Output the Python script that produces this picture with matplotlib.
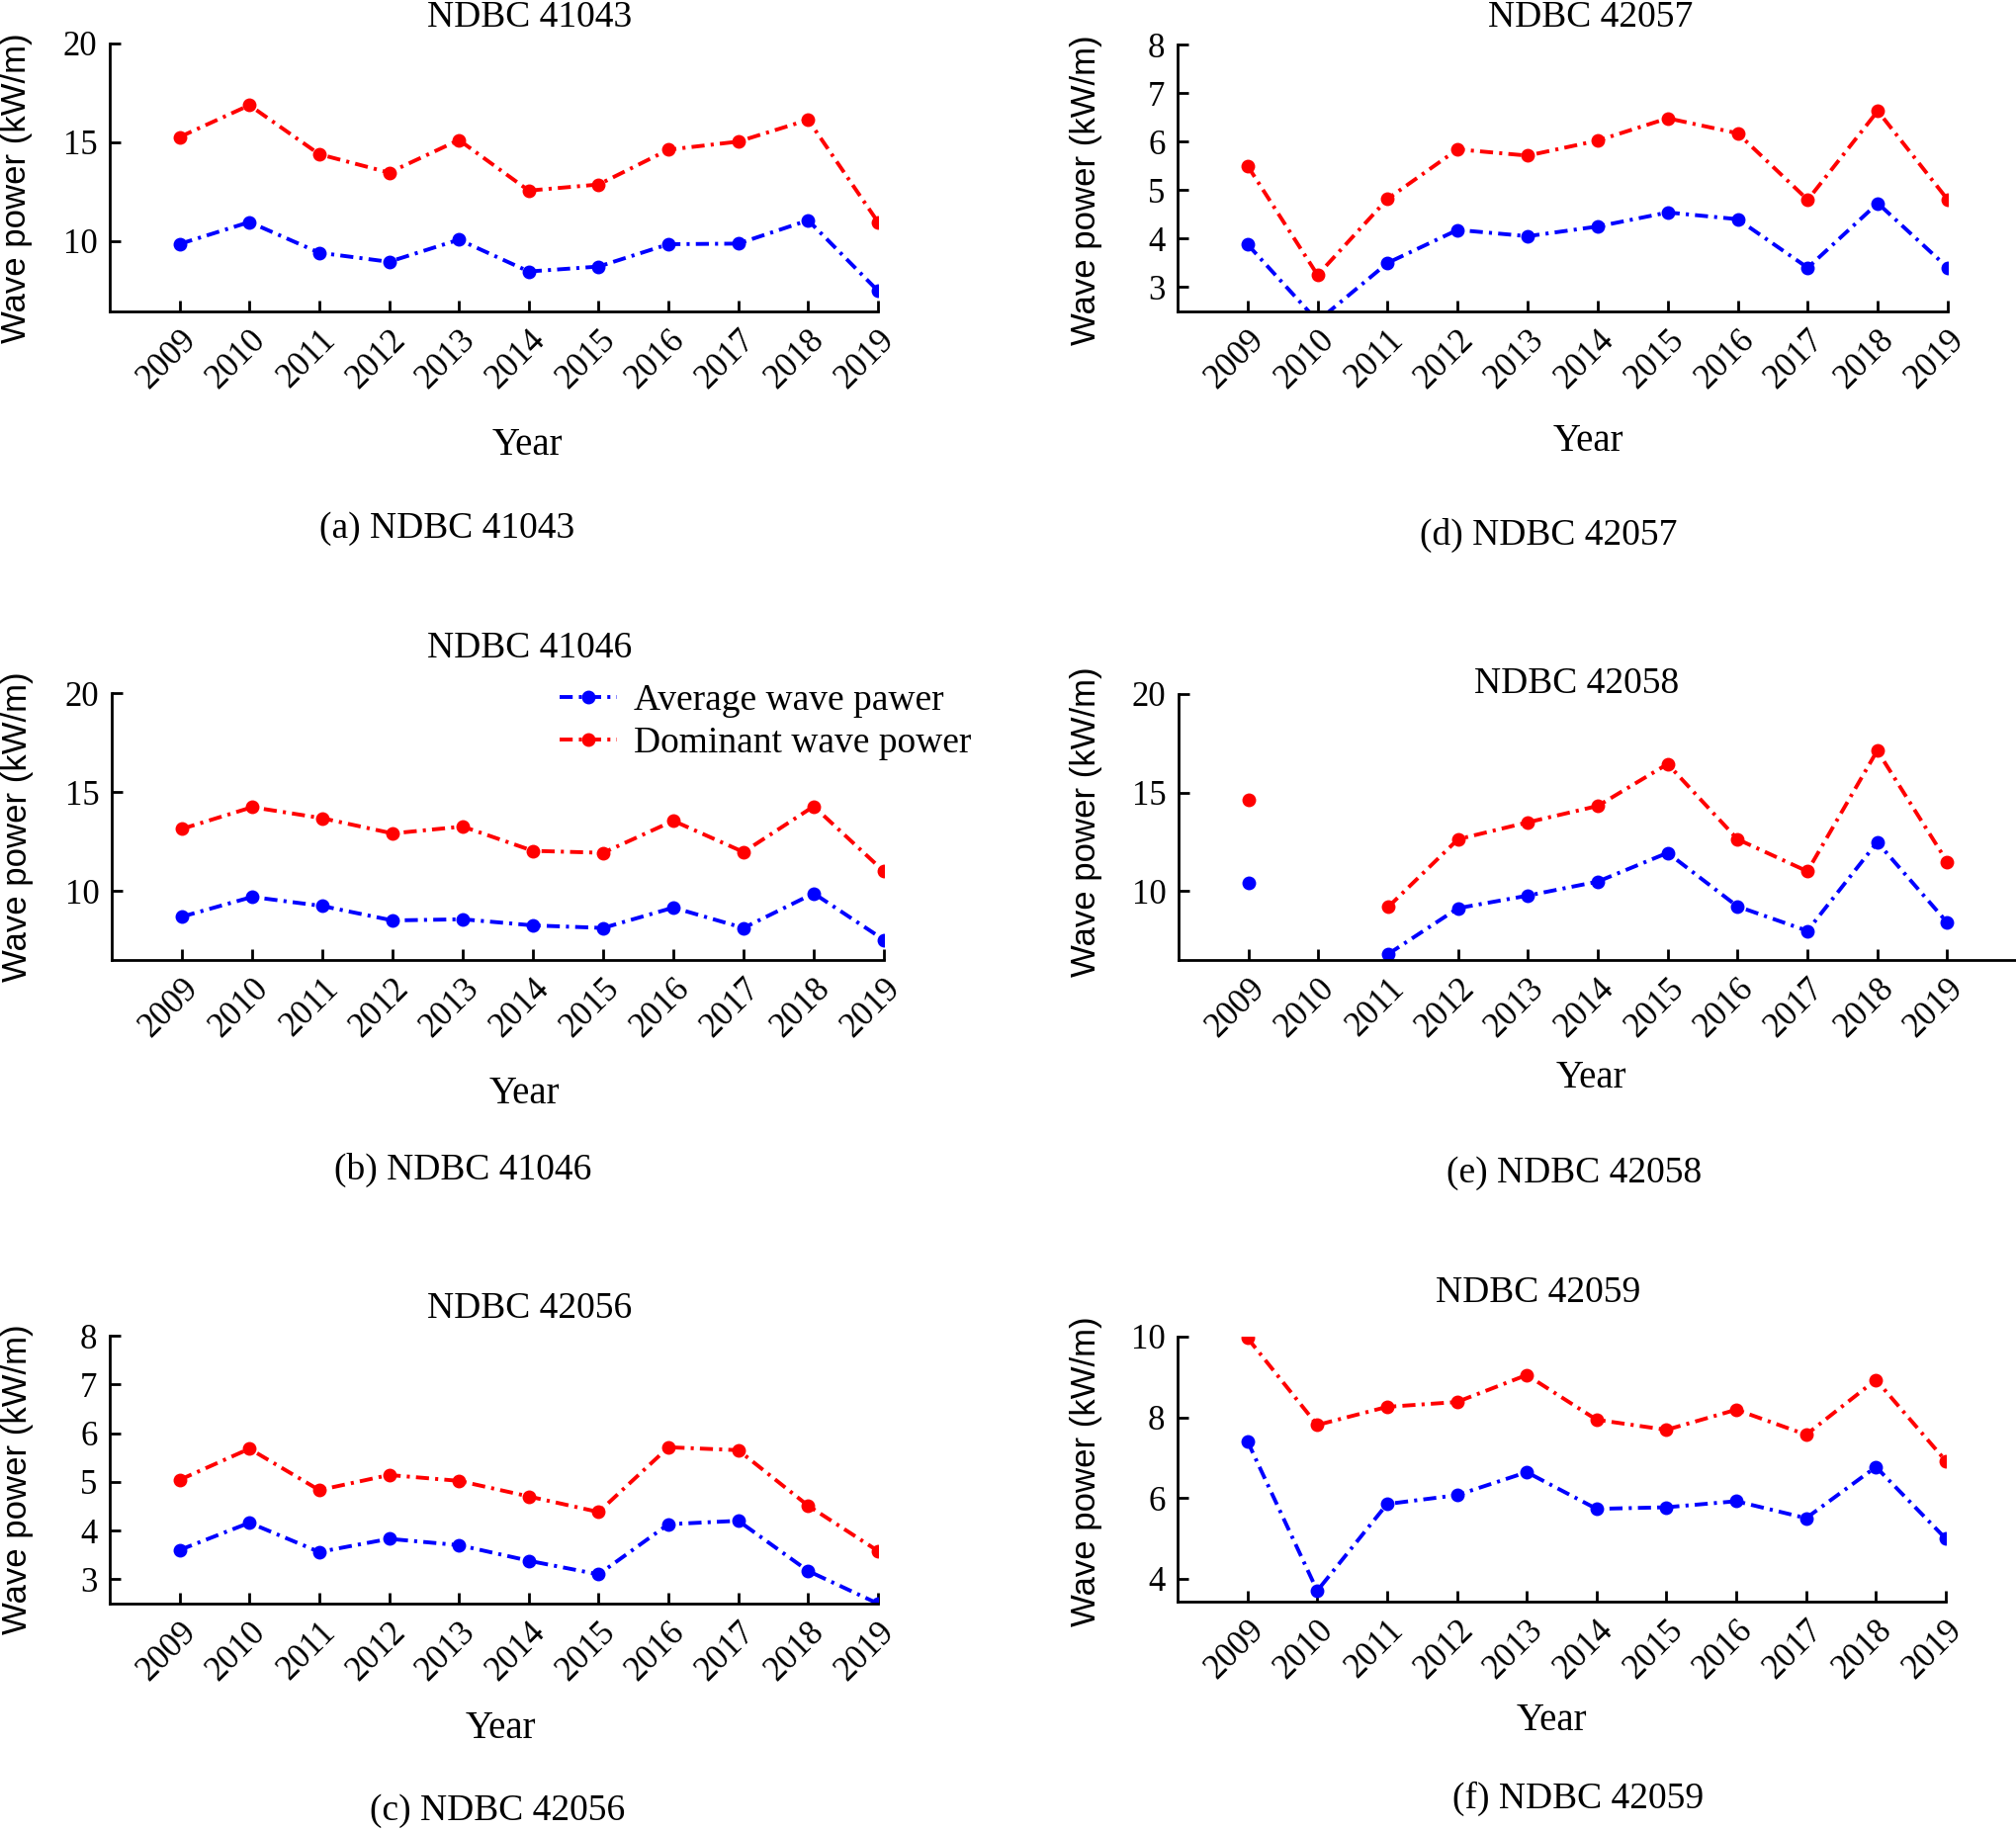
import numpy as np
import matplotlib
matplotlib.use("Agg")
import matplotlib.pyplot as plt
from matplotlib.transforms import ScaledTranslation

nan = np.nan
years = [2009, 2010, 2011, 2012, 2013, 2014, 2015, 2016, 2017, 2018, 2019]
year_labels = [str(y) for y in years]

a_avg = [9.86, 10.97, 9.42, 8.96, 10.08, 8.47, 8.72, 9.85, 9.88, 11.06, 7.49]
a_dom = [15.27, 16.88, 14.40, 13.47, 15.12, 12.56, 12.87, 14.63, 15.04, 16.14, 10.97]
b_avg = [8.69, 9.69, 9.23, 8.50, 8.56, 8.25, 8.12, 9.15, 8.12, 9.87, 7.52]
b_dom = [13.13, 14.23, 13.67, 12.90, 13.25, 12.02, 11.92, 13.54, 11.96, 14.27, 10.98]
c_avg = [3.60, 4.16, 3.56, 3.83, 3.70, 3.38, 3.10, 4.13, 4.20, 3.17, 2.50]
c_dom = [5.04, 5.68, 4.83, 5.14, 5.02, 4.70, 4.38, 5.71, 5.65, 4.51, 3.58]
d_avg = [3.88, 2.30, 3.50, 4.18, 4.05, 4.25, 4.54, 4.40, 3.40, 4.73, 3.40]
d_dom = [5.50, 3.25, 4.82, 5.84, 5.71, 6.02, 6.48, 6.17, 4.80, 6.63, 4.80]
e_avg = [10.43, nan, 6.80, 9.13, 9.77, 10.48, 11.94, 9.22, 7.98, 12.48, 8.41]
e_dom = [14.65, nan, 9.19, 12.63, 13.49, 14.32, 16.45, 12.63, 11.00, 17.13, 11.49]
f_avg = [7.41, 3.70, 5.85, 6.07, 6.64, 5.73, 5.77, 5.92, 5.50, 6.77, 4.99]
f_dom = [9.97, 7.81, 8.26, 8.38, 9.05, 7.94, 7.69, 8.19, 7.57, 8.93, 6.92]

titles = ["NDBC 41043", "NDBC 41046", "NDBC 42056", "NDBC 42057", "NDBC 42058", "NDBC 42059"]
captions = ["(a) NDBC 41043", "(b) NDBC 41046", "(c) NDBC 42056",
            "(d) NDBC 42057", "(e) NDBC 42058", "(f) NDBC 42059"]
legend_labels = ["Average wave pawer", "Dominant wave power"]

W, H = 2040, 1852
fig = plt.figure(figsize=(W / 100, H / 100), dpi=100)
fig.patch.set_facecolor("white")

SERIF = ["Liberation Serif", "DejaVu Serif"]
SANS = ["Liberation Sans", "DejaVu Sans"]
FS_TEXT = 27
FS_YEAR = 28
FS_TICK = 25
FS_YLAB = 25

def fig_rect(l, t, r, b):
    return [l / W, 1 - b / H, (r - l) / W, (b - t) / H]

def ftext(x, y, s, size, family=SERIF, rot=0):
    fig.text(x / W, 1 - y / H, s, ha="center", va="center", fontsize=size,
             family=family, rotation=rot)

panels = [
    # rect(l,t,r,b), avg, dom, ylim, yticks, xmax, title_xy, year_xy, cap_xy, ylab_xy
    (fig_rect(111, 44, 888, 315), a_avg, a_dom, (6.45, 20), [10, 15, 20], 2019,
     (536, 18), (533, 451), (452, 535), (17, 190)),
    (fig_rect(113, 701, 894, 971), b_avg, b_dom, (6.5, 20), [10, 15, 20], 2019,
     (536, 656), (530, 1106), (468, 1183), (18, 836)),
    (fig_rect(111, 1351, 888, 1622), c_avg, c_dom, (2.5, 8), [3, 4, 5, 6, 7, 8], 2019,
     (536, 1324), (506, 1748), (503, 1832), (18, 1496)),
    (fig_rect(1191, 45, 1970, 315), d_avg, d_dom, (2.5, 8), [3, 4, 5, 6, 7, 8], 2019,
     (1609, 18), (1606, 446), (1566, 541), (1099, 192)),
    (fig_rect(1192, 702, 2040, 971), e_avg, e_dom, (6.5, 20), [10, 15, 20], 2020,
     (1595, 692), (1609, 1090), (1592, 1187), (1099, 831)),
    (fig_rect(1191, 1352, 1968, 1620), f_avg, f_dom, (3.43, 10), [4, 6, 8, 10], 2019,
     (1556, 1308), (1569, 1741), (1596, 1819), (1099, 1488)),
]

dashes = [3.4, 1.6, 0.8, 1.6]
for i, (rect, avg, dom, ylim, yticks, xmax, t_xy, y_xy, c_xy, l_xy) in enumerate(panels):
    ax = fig.add_axes(rect)
    h1, = ax.plot(years, avg, color="#0000ff", lw=2.8, dashes=dashes,
                  marker="o", ms=9, label=legend_labels[0])
    h2, = ax.plot(years, dom, color="#ff0000", lw=2.8, dashes=dashes,
                  marker="o", ms=9, label=legend_labels[1])
    ax.set_xlim(2008, xmax)
    ax.set_ylim(*ylim)
    ax.set_yticks(yticks)
    ax.set_yticklabels([str(v) for v in yticks], family=SERIF, fontsize=FS_TICK)
    xt = list(years) + ([2020] if xmax == 2020 else [])
    xl = list(year_labels) + ([""] if xmax == 2020 else [])
    ax.set_xticks(xt)
    ax.set_xticklabels(xl, family=SERIF, fontsize=FS_TICK, rotation=45,
                       ha="right", va="top", rotation_mode="anchor")
    off = ScaledTranslation(0.14, 0, fig.dpi_scale_trans)
    for lab in ax.get_xticklabels():
        lab.set_transform(lab.get_transform() + off)
    ax.tick_params(axis="both", direction="in", length=8, width=2, pad=9)
    for s in ("top", "right"):
        ax.spines[s].set_visible(False)
    for s in ("left", "bottom"):
        ax.spines[s].set_linewidth(2)
    ftext(*t_xy, titles[i], FS_TEXT)
    ftext(*y_xy, "Year", FS_YEAR)
    ftext(*c_xy, captions[i], FS_TEXT)
    ftext(*l_xy, "Wave power (kW/m)", FS_YLAB, family=SANS, rot=90)

    if i == 1:
        ax.legend(handles=[h1, h2], loc="upper left",
                  bbox_to_anchor=(566 / W, 1 - 692 / H),
                  bbox_transform=fig.transFigure, frameon=False,
                  prop={"family": SERIF, "size": FS_TEXT},
                  handlelength=1.55, handletextpad=0.45, labelspacing=0.22,
                  borderpad=0, borderaxespad=0)

fig.savefig("out.png", dpi=100, facecolor="white")
